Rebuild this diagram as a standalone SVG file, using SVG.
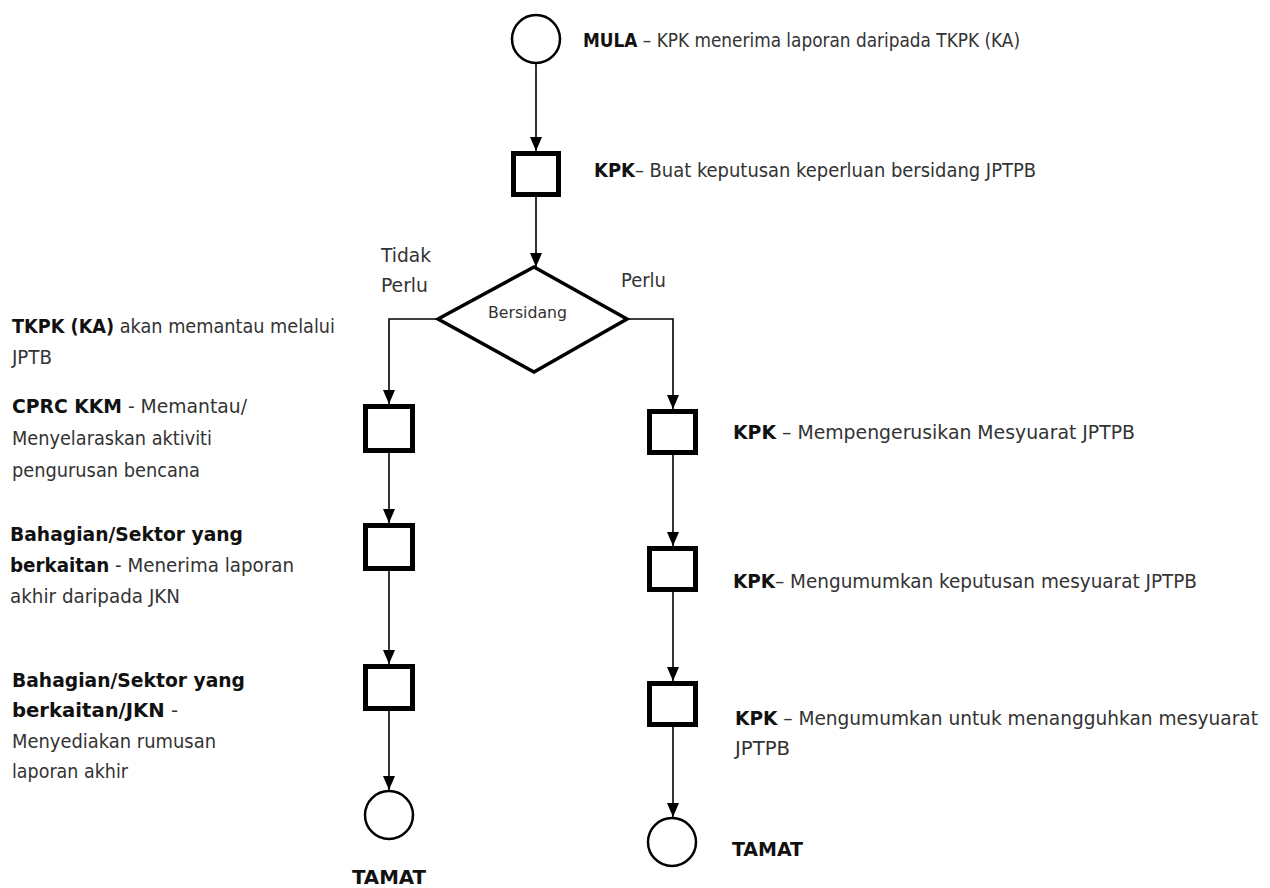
<svg xmlns="http://www.w3.org/2000/svg" width="1270" height="888" viewBox="0 0 1270 888">
<style>
text{font-family:"DejaVu Sans Condensed","DejaVu Sans",sans-serif;font-stretch:condensed;font-size:20px;fill:#333}
.b{font-weight:bold;fill:#111}
.sm{font-size:15px}
.box{fill:#fff;stroke:#000;stroke-width:5}
.term{fill:#fff;stroke:#000;stroke-width:2.5}
.dec{fill:#fff;stroke:#000;stroke-width:3.5}
.con{fill:none;stroke:#000;stroke-width:1.6}
</style>
<defs>
<marker id="ah" markerUnits="userSpaceOnUse" markerWidth="14" markerHeight="12" refX="14" refY="6" orient="auto" viewBox="0 0 14 12">
<path d="M0,0 L14,6 L0,12 z" fill="#000"/>
</marker>
</defs>
<rect width="1270" height="888" fill="#fff"/>
<g id="connectors">
<path class="con" d="M536,63 V151" marker-end="url(#ah)"/>
<path class="con" d="M536,197 V267" marker-end="url(#ah)"/>
<path class="con" d="M438,319 H389 V404" marker-end="url(#ah)"/>
<path class="con" d="M389,453 V523" marker-end="url(#ah)"/>
<path class="con" d="M389,571 V664" marker-end="url(#ah)"/>
<path class="con" d="M389,711 V790" marker-end="url(#ah)"/>
<path class="con" d="M627,319 H673 V409" marker-end="url(#ah)"/>
<path class="con" d="M673,455 V546" marker-end="url(#ah)"/>
<path class="con" d="M673,592 V681" marker-end="url(#ah)"/>
<path class="con" d="M673,727 V817" marker-end="url(#ah)"/>
</g>
<g id="start">
<circle class="term" cx="536" cy="39" r="24"/>
<text x="583" y="47" textLength="437" lengthAdjust="spacingAndGlyphs"><tspan class="b">MULA</tspan> – KPK menerima laporan daripada TKPK (KA)</text>
</g>
<g id="decide">
<rect class="box" x="513.5" y="153.5" width="45" height="41"/>
<text x="594" y="177" textLength="442" lengthAdjust="spacingAndGlyphs"><tspan class="b">KPK</tspan>– Buat keputusan keperluan bersidang JPTPB</text>
</g>
<g id="bersidang">
<polygon class="dec" points="534,267 627,319 534,372 438,319"/>
<text class="sm" x="488" y="318" textLength="79" lengthAdjust="spacingAndGlyphs">Bersidang</text>
<text x="381" y="262" textLength="50" lengthAdjust="spacingAndGlyphs">Tidak</text>
<text x="381" y="292" textLength="47" lengthAdjust="spacingAndGlyphs">Perlu</text>
<text x="621" y="287" textLength="45" lengthAdjust="spacingAndGlyphs">Perlu</text>
</g>
<g id="tkpk">
<text x="12" y="333" textLength="323" lengthAdjust="spacingAndGlyphs"><tspan class="b">TKPK (KA)</tspan> akan memantau melalui</text>
<text x="12" y="364" textLength="40" lengthAdjust="spacingAndGlyphs">JPTB</text>
</g>
<g id="cprc">
<rect class="box" x="365.5" y="406.5" width="47" height="44"/>
<text x="12" y="413" textLength="235" lengthAdjust="spacingAndGlyphs"><tspan class="b">CPRC KKM</tspan> - Memantau/</text>
<text x="12" y="445" textLength="200" lengthAdjust="spacingAndGlyphs">Menyelaraskan aktiviti</text>
<text x="12" y="477" textLength="188" lengthAdjust="spacingAndGlyphs">pengurusan bencana</text>
</g>
<g id="bahagian1">
<rect class="box" x="365.5" y="525.5" width="47" height="43"/>
<text x="10" y="541" class="b" textLength="233" lengthAdjust="spacingAndGlyphs">Bahagian/Sektor yang</text>
<text x="10" y="572" textLength="284" lengthAdjust="spacingAndGlyphs"><tspan class="b">berkaitan</tspan> - Menerima laporan</text>
<text x="10" y="603" textLength="170" lengthAdjust="spacingAndGlyphs">akhir daripada JKN</text>
</g>
<g id="bahagian2">
<rect class="box" x="365.5" y="666.5" width="47" height="42"/>
<text x="12" y="687" class="b" textLength="233" lengthAdjust="spacingAndGlyphs">Bahagian/Sektor yang</text>
<text x="12" y="717" textLength="166" lengthAdjust="spacingAndGlyphs"><tspan class="b">berkaitan/JKN</tspan> -</text>
<text x="12" y="748" textLength="204" lengthAdjust="spacingAndGlyphs">Menyediakan rumusan</text>
<text x="12" y="778" textLength="116" lengthAdjust="spacingAndGlyphs">laporan akhir</text>
</g>
<g id="end-left">
<circle class="term" cx="389" cy="815" r="24"/>
<text class="b" x="352" y="884" textLength="74" lengthAdjust="spacingAndGlyphs">TAMAT</text>
</g>
<g id="pengerusi">
<rect class="box" x="649.5" y="411.5" width="46" height="41"/>
<text x="733" y="439" textLength="402" lengthAdjust="spacingAndGlyphs"><tspan class="b">KPK</tspan>  – Mempengerusikan Mesyuarat JPTPB</text>
</g>
<g id="umum">
<rect class="box" x="649.5" y="548.5" width="46" height="41"/>
<text x="733" y="588" textLength="464" lengthAdjust="spacingAndGlyphs"><tspan class="b">KPK</tspan>– Mengumumkan keputusan mesyuarat JPTPB</text>
</g>
<g id="tangguh">
<rect class="box" x="649.5" y="683.5" width="46" height="41"/>
<text x="735" y="725" textLength="523" lengthAdjust="spacingAndGlyphs"><tspan class="b">KPK</tspan> – Mengumumkan untuk menangguhkan mesyuarat</text>
<text x="735" y="755" textLength="55" lengthAdjust="spacingAndGlyphs">JPTPB</text>
</g>
<g id="end-right">
<circle class="term" cx="672" cy="842" r="24"/>
<text class="b" x="732" y="856" textLength="71" lengthAdjust="spacingAndGlyphs">TAMAT</text>
</g>
</svg>
